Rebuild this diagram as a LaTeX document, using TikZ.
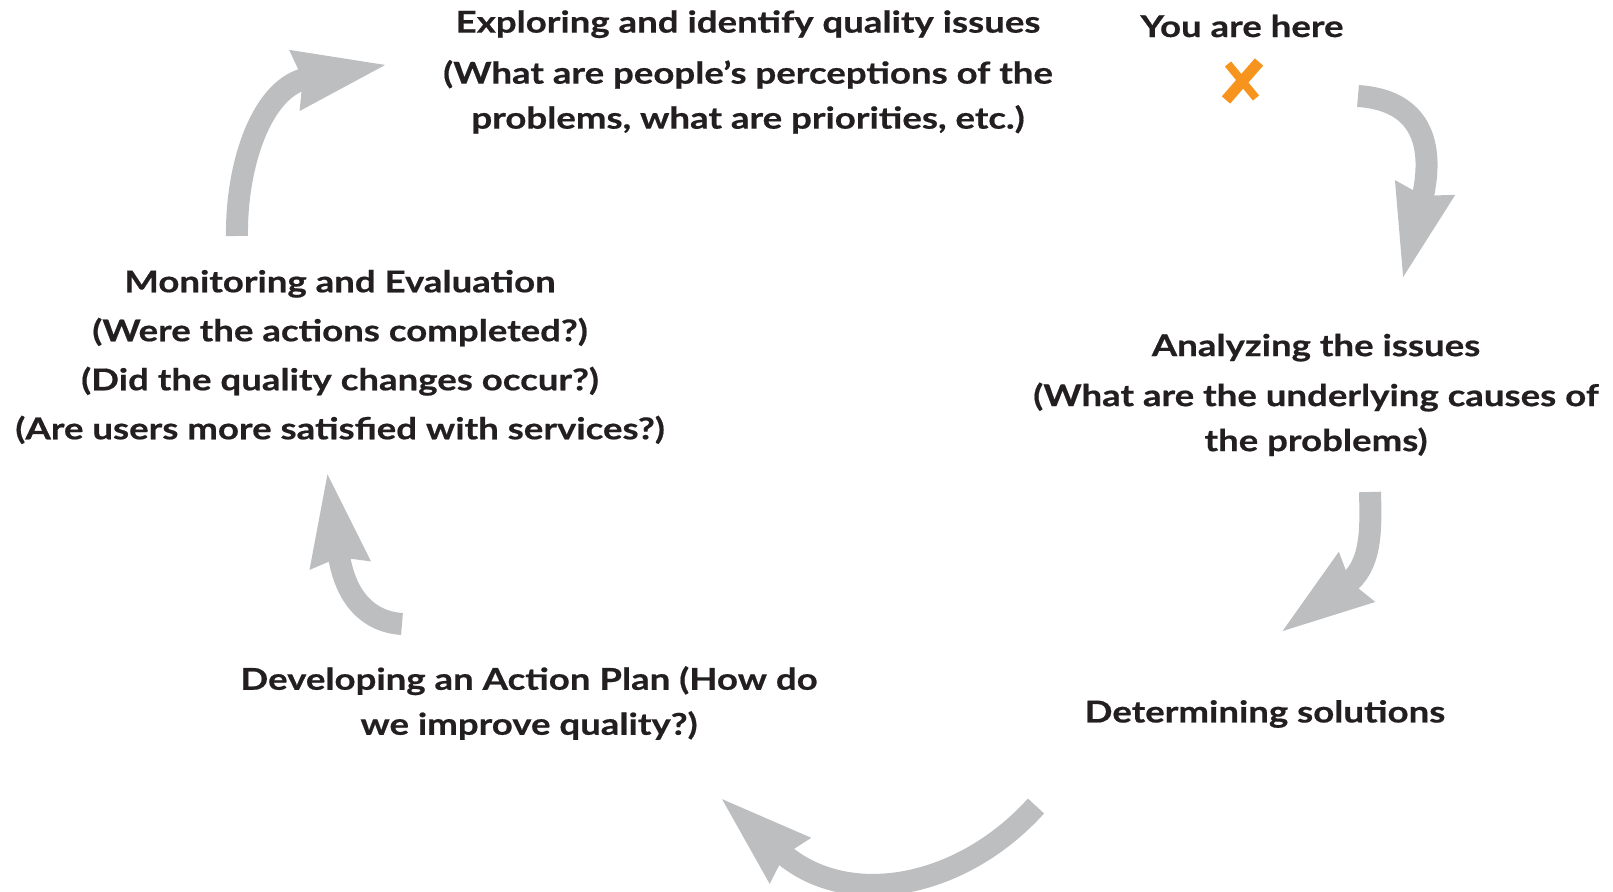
\documentclass[tikz,border=0pt]{standalone}
\usepackage{fontspec}
\setmainfont{Lato}[FakeStretch=1.22,FakeBold=0.6]
\usetikzlibrary{arrows.meta}
\definecolor{cyclegray}{HTML}{BCBEC0}
\definecolor{textdark}{HTML}{231F20}
\definecolor{xorange}{HTML}{F7941D}

\begin{document}
\begin{tikzpicture}
			[x=0.5pt,y=-0.5pt,
			every node/.style={align=center,text=textdark,
			font=\bfseries\fontsize{15}{22.5}\selectfont},
			cyc/.style={draw=cyclegray,line width=11pt,shorten >=-44pt,
			-{Stealth[length=46pt,width=27pt,inset=2pt]}},
			xstroke/.style={draw=xorange,line width=#1}]
			\useasboundingbox (0,0) rectangle (1613,892);

			\node (explore) at (748,72) {Exploring and identify quality issues\\[3pt]
				(What are people’s perceptions of the\\
				problems, what are priorities, etc.)};
			\node (here) at (1242,26) {You are here};
			\node (analyze) at (1316,395) {Analyzing the issues\\[2.5pt]
				(What are the underlying causes of\\
				the problems)};
			\node (determine) at (1265,714) {Determining solutions};
			\node (develop) at (529,703) {Developing an Action Plan (How do\\
				we improve quality?)};
			\node (monitor) at (340,357) {Monitoring and Evaluation\\[2pt]
				(Were the actions completed?)\\[2pt]
				(Did the quality changes occur?)\\[2pt]
				(Are users more satisfied with services?)};

			%%you are here
			\draw[xstroke=4pt] (1228,64) -- (1256,98);
			\draw[xstroke=5.5pt] (1259,62) -- (1226,100);

			%%cycle arrows
			\coordinate (a1s) at (1358,96);  \coordinate (a1e) at (1423,196);
			\coordinate (a2s) at (1370,492); \coordinate (a2e) at (1350,582);
			\coordinate (a3s) at (1036,806); \coordinate (a3e) at (784,855);
			\coordinate (a4s) at (402,624);  \coordinate (a4e) at (339,557);
			\coordinate (a5s) at (237,236);  \coordinate (a5e) at (303,79);

			\draw[cyc] (a1s) .. controls (1420,100) and (1436,143) .. (a1e);
			\draw[cyc] (a2s) .. controls (1371,530) and (1372,566) .. (a2e);
			\draw[cyc] (a3s) .. controls (960,890) and (845,910) .. (a3e);
			\draw[cyc] (a4s) .. controls (370,622) and (345,600) .. (a4e);
			\draw[cyc] (a5s) .. controls (236,165) and (262,86) .. (a5e);
\end{tikzpicture}
\end{document}
